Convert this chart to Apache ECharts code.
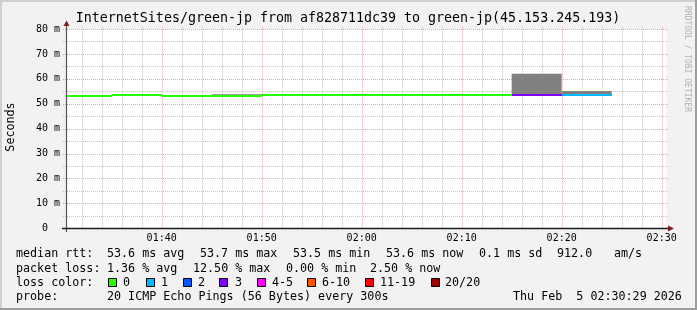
<!DOCTYPE html>
<html><head><meta charset="utf-8">
<script src="https://cdn.jsdelivr.net/npm/echarts@6/dist/echarts.min.js"></script>
<style>html,body{margin:0;padding:0;background:#f2f2f2;}#c{width:697px;height:310px;}</style>
</head><body><div id="c"></div>
<script>
// ---------------- data ----------------
const titleText = 'InternetSites/green-jp from af828711dc39 to green-jp(45.153.245.193)';
const yAxisName = 'Seconds';
const sideText = 'RRDTOOL / TOBI OETIKER';
const startTime = '01:30:29';
const endTime = '02:30:29';
const binEnds   = ['01:35','01:40','01:45','01:50','01:55','02:00','02:05','02:10','02:15','02:20','02:25'];
const medianMs  = [53.2, 53.6, 53.2, 53.2, 53.6, 53.6, 53.6, 53.6, 53.6, 53.5, 53.5];
const smokeLoMs = [53.1, 53.5, 53.1, 53.1, 53.5, 53.5, 53.5, 53.5, 53.5, 53.3, 53.3];
const smokeHiMs = [53.3, 53.7, 53.3, 53.8, 53.7, 53.7, 53.7, 53.7, 53.7, 62.0, 55.1];
const lostPings = [0, 0, 0, 0, 0, 0, 0, 0, 0, 3, 1];
const yMajorTicks = [0, 10, 20, 30, 40, 50, 60, 70, 80];
const yMinorTicks = [5, 15, 25, 35, 45, 55, 65, 75];
const xMajorTicks = ['01:40', '01:50', '02:00', '02:10', '02:20', '02:30'];
const xMinorTicks = ['01:32','01:34','01:36','01:38','01:42','01:44','01:46','01:48','01:52','01:54','01:56','01:58',
                     '02:02','02:04','02:06','02:08','02:12','02:14','02:16','02:18','02:22','02:24','02:26','02:28'];
const lossLabels = ['0', '1', '2', '3', '4-5', '6-10', '11-19', '20/20'];
const lossUpper  = [0, 1, 2, 3, 5, 10, 19, 20];
const lossColors = ['#26ff00', '#00b8ff', '#0059ff', '#7e00ff', '#ff00ff', '#ff5500', '#ff0000', '#a10000'];
const rttRow  = ['median rtt:', '53.6 ms avg', '53.7 ms max', '53.5 ms min', '53.6 ms now', '0.1 ms sd', '912.0', 'am/s'];
const lossRow = ['packet loss:', '1.36 % avg', '12.50 % max', '0.00 % min', '2.50 % now'];
const probeRow = ['probe:', '20 ICMP Echo Pings (56 Bytes) every 300s', 'Thu Feb  5 02:30:29 2026'];

// ---------------- helpers ----------------
function toMin(s) { const p = s.split(':').map(Number); return p[0]*60 + p[1] + (p[2]||0)/60; }
function fmt(v) { const h = Math.floor(v/60), m = Math.round(v - h*60); return String(h).padStart(2,'0') + ':' + String(m).padStart(2,'0'); }
const tStart = toMin(startTime), tEnd = toMin(endTime);
const bins = binEnds.map((e, i) => {
  const t1 = toMin(e), t0 = Math.max(tStart, t1 - 5);
  let li = lossUpper.findIndex(u => lostPings[i] <= u);
  return [t0, t1, medianMs[i], smokeLoMs[i], smokeHiMs[i], li];
});
const MONO = '"DejaVu Sans Mono", monospace';
const gridC = 'rgba(143,143,143,0.5)', mgridC = 'rgba(222,79,79,0.5)';

function hLine(color) {
  return function (params, api) {
    const v = api.value(0);
    const a = api.coord([tStart, v]), b = api.coord([tEnd, v]);
    const y = Math.round(a[1]) + 0.5;
    return { type: 'line', shape: { x1: a[0] - 3.5, y1: y, x2: b[0] + 1.5, y2: y },
      style: { stroke: color, lineWidth: 1, lineDash: [1, 1] } };
  };
}
function vLine(color) {
  return function (params, api) {
    const v = api.value(0);
    const a = api.coord([v, 0]), b = api.coord([v, 80]);
    const x = Math.round(a[0]) + 0.5;
    return { type: 'line', shape: { x1: x, y1: a[1], x2: x, y2: b[1] - 2 },
      style: { stroke: color, lineWidth: 1, lineDash: [1, 1] } };
  };
}

const chart = echarts.init(document.getElementById('c'), null, { renderer: 'canvas' });

const graphic = [];
graphic.push({ type: 'rect', shape: { x: 0, y: 0, width: 697, height: 310 }, style: { fill: '#f2f2f2' }, z: -10 });
graphic.push({ type: 'rect', shape: { x: 0, y: 0, width: 697, height: 2 }, style: { fill: '#cfcfcf' }, z: -9 });
graphic.push({ type: 'rect', shape: { x: 0, y: 0, width: 2, height: 310 }, style: { fill: '#cfcfcf' }, z: -9 });
graphic.push({ type: 'rect', shape: { x: 0, y: 308, width: 697, height: 2 }, style: { fill: '#9e9e9e' }, z: -9 });
graphic.push({ type: 'rect', shape: { x: 695, y: 0, width: 2, height: 310 }, style: { fill: '#9e9e9e' }, z: -9 });
graphic.push({ type: 'line', shape: { x1: 66.5, y1: 232, x2: 66.5, y2: 25 }, style: { stroke: '#555', lineWidth: 1.2 }, z: 50 });
graphic.push({ type: 'line', shape: { x1: 62, y1: 228.5, x2: 669, y2: 228.5 }, style: { stroke: '#1f1f1f', lineWidth: 1.4 }, z: 50 });
graphic.push({ type: 'polygon', shape: { points: [[63.5, 26], [69.5, 26], [66.5, 20.5]] }, style: { fill: '#801f1f' }, z: 51 });
graphic.push({ type: 'polygon', shape: { points: [[668, 225.5], [668, 231.5], [674, 228.5]] }, style: { fill: '#801f1f' }, z: 51 });
graphic.push({ type: 'text', x: 348, y: 19, style: { text: titleText, font: '13.3px ' + MONO, fill: '#000', textAlign: 'center', textVerticalAlign: 'middle' } });
graphic.push({ type: 'text', x: 11, y: 127, rotation: Math.PI / 2, style: { text: yAxisName, font: '11.7px ' + MONO, fill: '#000', textAlign: 'center', textVerticalAlign: 'middle' } });
graphic.push({ type: 'text', x: 687, y: 59, rotation: -Math.PI / 2, style: { text: sideText, font: '8px ' + MONO, fill: '#b0b0b0', textAlign: 'center', textVerticalAlign: 'middle' } });
const LF = '11.7px ' + MONO;
function txt(s, x, y) { graphic.push({ type: 'text', x: x, y: y, style: { text: s, font: LF, fill: '#000', textAlign: 'left', textVerticalAlign: 'middle' } }); }
const rttX = [16, 107, 200, 293, 386, 479, 557, 614];
rttRow.forEach((s, i) => txt(s, rttX[i], 254));
const lossX = [16, 107, 193, 286, 370];
lossRow.forEach((s, i) => txt(s, lossX[i], 268.5));
txt('loss color:', 16, 282.5);
const boxX = [108, 146, 183, 219, 257, 307, 365, 431];
const labX = [123, 161, 198, 235, 272, 322, 380, 445];
lossLabels.forEach((s, i) => {
  graphic.push({ type: 'rect', shape: { x: boxX[i] + 0.5, y: 278.5, width: 8, height: 8 }, style: { fill: lossColors[i], stroke: '#000', lineWidth: 1 } });
  txt(s, labX[i], 282.5);
});
const probeX = [16, 107, 513];
probeRow.forEach((s, i) => txt(s, probeX[i], 296.5));

chart.setOption({
  animation: false,
  backgroundColor: '#f2f2f2',
  grid: { left: 66.5, right: 30.5, top: 29, bottom: 81.7, show: true, backgroundColor: '#ffffff', borderWidth: 0 },
  xAxis: {
    type: 'value', min: tStart, max: tEnd,
    axisLine: { show: false }, axisTick: { show: false }, splitLine: { show: false },
    axisLabel: { customValues: xMajorTicks.map(toMin), formatter: v => fmt(v), fontFamily: MONO, fontSize: 10, color: '#000', margin: 5.5 }
  },
  yAxis: {
    type: 'value', min: 0, max: 80, interval: 10,
    axisLine: { show: false }, axisTick: { show: false }, splitLine: { show: false },
    axisLabel: { formatter: v => v === 0 ? '0  ' : v + ' m', fontFamily: MONO, fontSize: 10, color: '#000', margin: 6.5 }
  },
  graphic: graphic,
  series: [
    { type: 'custom', name: 'smoke', z: 2, clip: false,
      data: bins, encode: { x: [0, 1], y: [3, 4] },
      renderItem: (p, api) => {
        const a = api.coord([api.value(0), api.value(4)]), b = api.coord([api.value(1), api.value(3)]);
        return { type: 'rect', shape: { x: a[0], y: a[1], width: b[0] - a[0], height: b[1] - a[1] }, style: { fill: '#808080' } };
      } },
    { type: 'custom', name: 'gridYMinor', z: 3, silent: true, data: yMinorTicks.map(v => [v]), encode: { y: 0 }, renderItem: hLine(gridC) },
    { type: 'custom', name: 'gridXMinor', z: 3, silent: true, data: xMinorTicks.map(s => [toMin(s)]), encode: { x: 0 }, renderItem: vLine(gridC) },
    { type: 'custom', name: 'gridYMajor', z: 3, silent: true, data: yMajorTicks.filter(v => v > 0).map(v => [v]), encode: { y: 0 }, renderItem: hLine(mgridC) },
    { type: 'custom', name: 'gridXMajor', z: 3, silent: true, data: xMajorTicks.map(s => [toMin(s)]), encode: { x: 0 }, renderItem: vLine(mgridC) },
    { type: 'custom', name: 'median', z: 4, clip: false,
      data: bins, encode: { x: [0, 1], y: 2 },
      renderItem: (p, api) => {
        const a = api.coord([api.value(0), api.value(2)]), b = api.coord([api.value(1), api.value(2)]);
        const x0 = Math.round(a[0]), x1 = Math.round(b[0]);
        return { type: 'rect', shape: { x: x0, y: Math.round(a[1] - 1), width: x1 - x0, height: 2 }, style: { fill: lossColors[api.value(5)] } };
      } }
  ]
});
</script></body></html>
